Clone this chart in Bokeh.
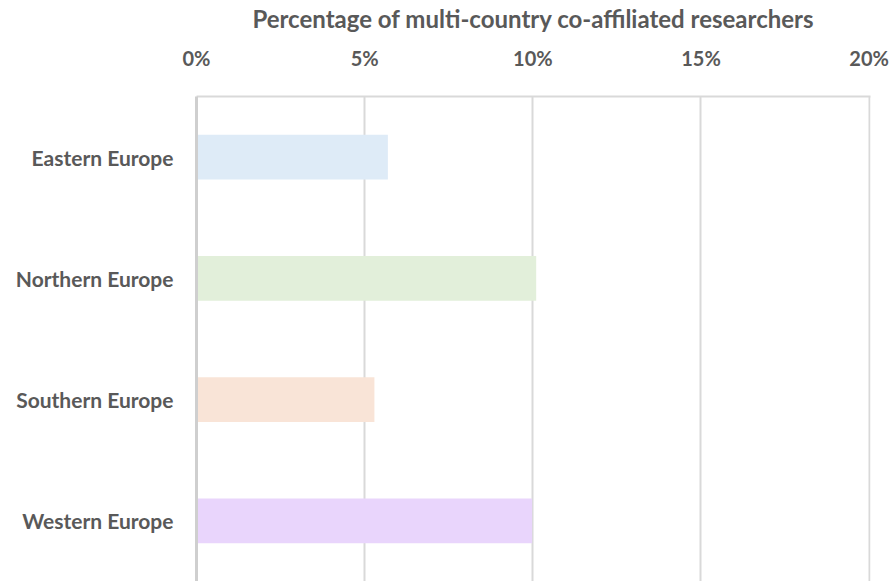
from bokeh.plotting import figure
from bokeh.models import FactorRange, Range1d, FixedTicker, ColumnDataSource
from bokeh.embed import file_html
from bokeh.resources import INLINE

# Share of researchers affiliated with institutions in more than one country
regions = ["Eastern Europe", "Northern Europe", "Southern Europe", "Western Europe"]
share_pct = [5.69, 10.1, 5.29, 9.98]
bar_colors = ["#DEEBF7", "#E2EFDA", "#F9E4D7", "#E9D5FC"]
tick_values = [0, 5, 10, 15, 20]
tick_labels = {0: "0%", 5: "5%", 10: "10%", 15: "15%", 20: "20%"}

TEXT = "#595959"
GRID = "#D9D9D9"
FONT = "Lato"

source = ColumnDataSource(dict(region=regions, share=share_pct, color=bar_colors))

p = figure(
    width=892, height=581,
    y_range=FactorRange(*reversed(regions)),
    x_range=Range1d(0, 20.04),
    x_axis_location="above",
    output_backend="svg", toolbar_location=None,
    min_border_left=196, min_border_right=22, min_border_top=96, min_border_bottom=0,
)

p.hbar(y="region", right="share", left=0, height=0.37, color="color",
       line_color=None, source=source)

p.outline_line_color = None
p.background_fill_color = "white"
p.border_fill_color = "white"

# value axis along the top
xa = p.xaxis[0]
xa.ticker = FixedTicker(ticks=tick_values)
xa.major_label_overrides = tick_labels
xa.axis_label = "Percentage of multi-country co-affiliated researchers"
xa.axis_label_text_font = FONT
xa.axis_label_text_font_style = "bold"
xa.axis_label_text_font_size = "24px"
xa.axis_label_text_color = TEXT
xa.axis_label_standoff = 10
xa.major_label_text_font = FONT
xa.major_label_text_font_style = "bold"
xa.major_label_text_font_size = "20px"
xa.major_label_text_color = TEXT
xa.major_label_standoff = 21
xa.major_tick_line_color = None
xa.minor_tick_line_color = None
xa.axis_line_color = GRID
xa.axis_line_width = 2

# category axis
ya = p.yaxis[0]
ya.major_label_text_font = FONT
ya.major_label_text_font_style = "bold"
ya.major_label_text_font_size = "21px"
ya.major_label_text_color = TEXT
ya.major_label_standoff = 17
ya.major_tick_line_color = None
ya.minor_tick_line_color = None
ya.axis_line_color = "#CFCFCF"
ya.axis_line_width = 3

p.xgrid.grid_line_color = GRID
p.xgrid.grid_line_width = 2
p.ygrid.grid_line_color = None

open("out.html", "w").write(file_html(p, INLINE))
